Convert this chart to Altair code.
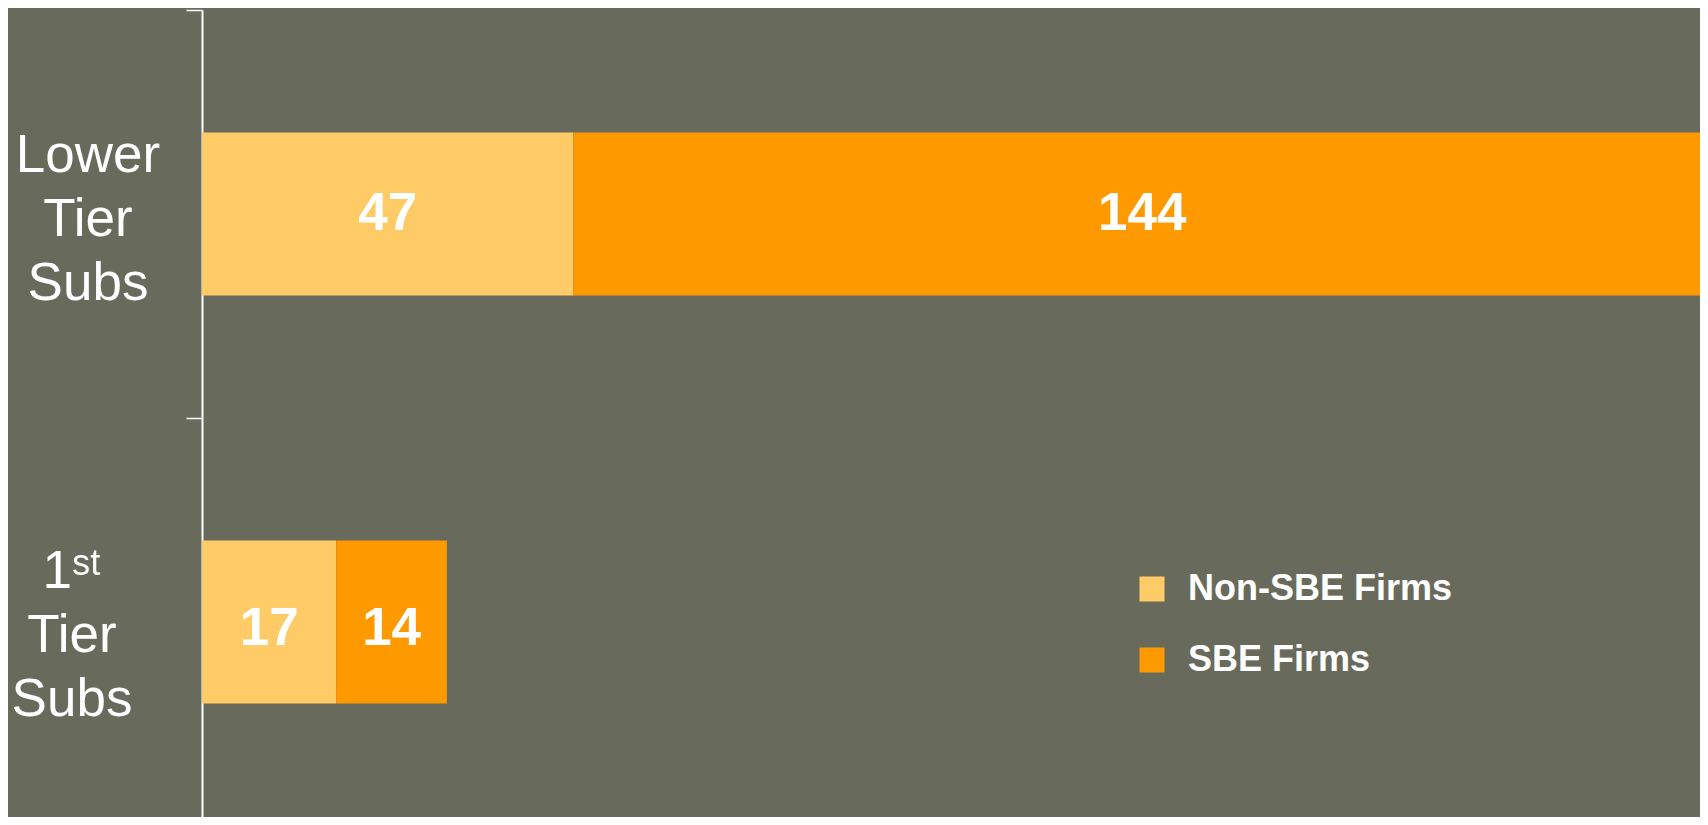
import altair as alt
import pandas as pd

categories = ["Lower Tier Subs", "1ˢᵗ Tier Subs"]
series = ["Non-SBE Firms", "SBE Firms"]
non_sbe = [47, 17]
sbe = [144, 14]
colors = ["#FFCB66", "#FF9900"]

rows = []
for i, cat in enumerate(categories):
    rows.append({"cat": cat, "series": series[0], "rank": 0, "value": non_sbe[i]})
    rows.append({"cat": cat, "series": series[1], "rank": 1, "value": sbe[i]})
df = pd.DataFrame(rows)
cat_df = pd.DataFrame({"cat": categories})

FONT = "Liberation Sans, Arial, sans-serif"

y_scale = alt.Scale(domain=categories, range=[0, 816], paddingInner=0, paddingOuter=0)
x_scale = alt.Scale(domain=[0, 191], range=[0, 1509], nice=False)

bars = alt.Chart(df).mark_bar(size=163).encode(
    y=alt.Y("cat:N", scale=y_scale, axis=alt.Axis(
        title=None, domainColor="white", domainWidth=2, tickColor="white",
        tickWidth=1.5, tickSize=16, tickBand="extent", labels=False)),
    x=alt.X("value:Q", stack="zero", scale=x_scale, axis=None),
    color=alt.Color("series:N", scale=alt.Scale(domain=series, range=colors),
                    legend=alt.Legend(title=None, orient="none", legendX=932, legendY=561,
                                      symbolType="square", symbolSize=625, labelColor="white",
                                      labelFont=FONT, labelFontWeight="bold", labelFontSize=36,
                                      labelOffset=18, rowPadding=35, labelLimit=0)),
    order=alt.Order("rank:Q"),
)

def value_labels(cat, dy):
    return alt.Chart(df).transform_filter(
        alt.datum.cat == cat
    ).transform_window(
        cum="sum(value)", sort=[alt.SortField("rank")], groupby=["cat"]
    ).transform_calculate(
        mid="datum.cum - datum.value / 2"
    ).mark_text(
        color="white", font=FONT, fontWeight="bold", fontSize=53,
        baseline="middle", align="center", dy=dy
    ).encode(
        y=alt.Y("cat:N", scale=y_scale),
        x=alt.X("mid:Q", scale=x_scale),
        text=alt.Text("value:Q"),
    )

def cat_labels(cat, dx, dy):
    return alt.Chart(cat_df).transform_filter(
        alt.datum.cat == cat
    ).mark_text(
        color="white", font=FONT, fontSize=53, lineHeight=64, lineBreak=" ",
        align="center", baseline="alphabetic", dy=dy
    ).encode(
        y=alt.Y("cat:N", scale=y_scale),
        x=alt.value(dx),
        text="cat:N",
    )

layers = [
    bars,
    value_labels(categories[0], 0),
    value_labels(categories[1], 7),
    cat_labels(categories[0], -114, -42),
    cat_labels(categories[1], -130, -34),
]

chart = alt.layer(*layers).properties(
    width=1498,
    height=807,
    autosize=alt.AutoSizeParams(type="none"),
    padding={"left": 194, "top": 2, "right": 0, "bottom": 0},
    background="#686A5C",
).configure_view(strokeWidth=0)

chart.save("out.html", embed_options={"renderer": "svg", "actions": False})
